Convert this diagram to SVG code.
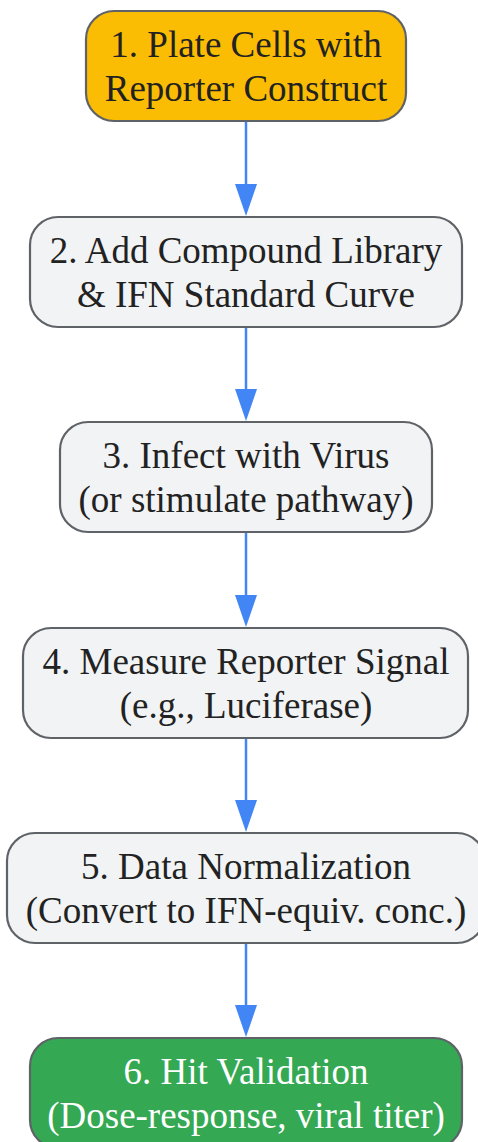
<svg xmlns="http://www.w3.org/2000/svg" width="478" height="1142" viewBox="0 0 478 1142">
<style>
.n{stroke:#5f6368;stroke-width:2.2}
.g{fill:#F1F3F4}
.t{font-family:"Liberation Serif","Times New Roman",serif;font-size:37px;text-anchor:middle;fill:#222}
.w{fill:#ffffff}
.e{stroke:#4285F4;stroke-width:2.5;fill:none}
.h{fill:#4285F4}
</style>
<rect width="478" height="1142" fill="#ffffff"/>
<g id="connectors">
<line class="e" x1="246" y1="122" x2="246" y2="188"/><polygon class="h" points="235,184 257,184 246,216"/>
<line class="e" x1="246" y1="327" x2="246" y2="393"/><polygon class="h" points="235,389 257,389 246,421"/>
<line class="e" x1="246" y1="532" x2="246" y2="599"/><polygon class="h" points="235,595 257,595 246,627"/>
<line class="e" x1="246" y1="738" x2="246" y2="804"/><polygon class="h" points="235,800 257,800 246,832"/>
<line class="e" x1="246" y1="943" x2="246" y2="1009"/><polygon class="h" points="235,1005 257,1005 246,1037"/>
</g>
<g id="node1"><rect class="n" x="86" y="11" width="320" height="110" rx="28" fill="#FBBC04"/>
<text class="t" x="246" y="57">1. Plate Cells with</text><text class="t" x="246" y="101">Reporter Construct</text></g>
<g id="node2"><rect class="n g" x="30" y="217" width="432" height="110" rx="28"/>
<text class="t" x="246" y="263">2. Add Compound Library</text><text class="t" x="246" y="307">&amp; IFN Standard Curve</text></g>
<g id="node3"><rect class="n g" x="60" y="422" width="372" height="110" rx="28"/>
<text class="t" x="246" y="468">3. Infect with Virus</text><text class="t" x="246" y="512">(or stimulate pathway)</text></g>
<g id="node4"><rect class="n g" x="23" y="628" width="445" height="110" rx="28"/>
<text class="t" x="246" y="674">4. Measure Reporter Signal</text><text class="t" x="246" y="718">(e.g., Luciferase)</text></g>
<g id="node5"><rect class="n g" x="7" y="833" width="478" height="110" rx="28"/>
<text class="t" x="246" y="879">5. Data Normalization</text><text class="t" x="246" y="923">(Convert to IFN-equiv. conc.)</text></g>
<g id="node6"><rect class="n" x="30" y="1038" width="432" height="110" rx="28" fill="#34A853"/>
<text class="t w" x="246" y="1084">6. Hit Validation</text><text class="t w" x="246" y="1128">(Dose-response, viral titer)</text></g>
</svg>
